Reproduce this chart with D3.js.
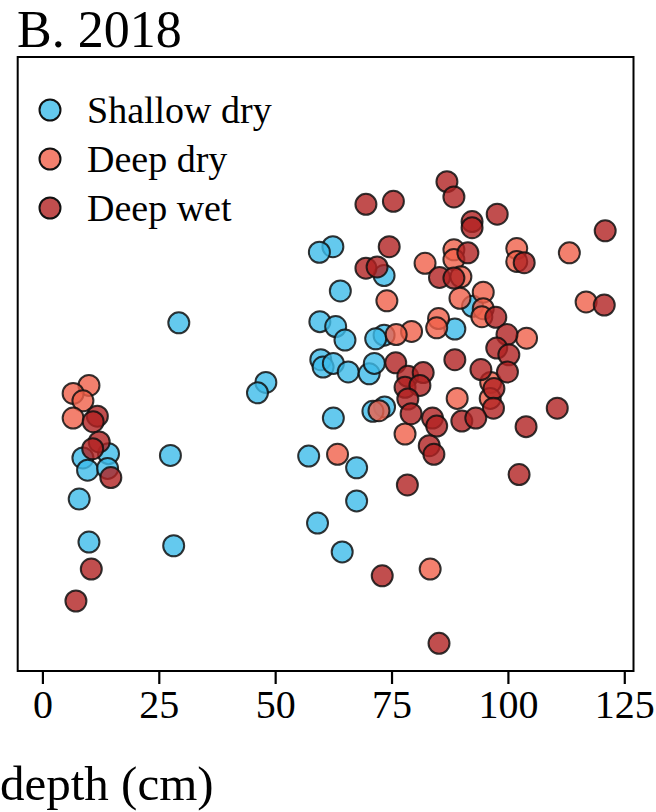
<!DOCTYPE html>
<html>
<head>
<meta charset="utf-8">
<script src="https://cdn.jsdelivr.net/npm/d3@7"></script>
<style>
  body { margin: 0; background: #fff; }
  text { font-family: "Liberation Serif", "Times New Roman", serif; fill: #000; }
</style>
</head>
<body>
<div id="chart"></div>
<script>
"use strict";

// series: [depth (cm), y value (unlabelled axis)]
const shallowDry = [
    [29.3, 56.7], [48.0, 47.0], [46.2, 45.3], [8.7, 34.7], [14.2, 35.4], [9.7, 32.7],
    [14.0, 33.0], [27.5, 35.1], [7.9, 28.0], [10.0, 21.0], [28.2, 20.4], [62.4, 69.1],
    [59.5, 68.2], [73.4, 64.4], [64.0, 61.9], [92.4, 59.4], [59.6, 56.9], [63.0, 56.1],
    [65.0, 53.9], [88.6, 55.7], [73.4, 54.7], [71.6, 54.1], [59.8, 50.7], [60.3, 49.5],
    [62.5, 50.1], [65.7, 48.7], [70.2, 48.4], [71.3, 50.1], [73.5, 43.0], [71.0, 42.3],
    [62.5, 41.2], [57.2, 35.0], [67.5, 33.1], [67.5, 27.7], [59.1, 24.1], [64.4, 19.4]
];
const deepDry = [
    [10.0, 46.5], [6.6, 45.2], [8.7, 44.0], [6.6, 41.2], [88.4, 68.6], [88.4, 67.0],
    [82.2, 66.4], [89.9, 64.2], [74.0, 60.3], [89.7, 60.7], [94.7, 61.7], [94.7, 59.0],
    [94.4, 57.7], [85.1, 57.4], [84.7, 55.9], [79.3, 55.3], [76.0, 54.8], [101.9, 68.8],
    [101.9, 66.7], [113.2, 68.1], [116.8, 60.1], [104.0, 54.2], [96.3, 47.0], [96.2, 44.4],
    [89.1, 44.4], [72.3, 42.4], [77.9, 38.6], [63.4, 35.3], [83.3, 16.6]
];
const deepWet = [
    [11.8, 41.5], [10.9, 40.6], [12.2, 37.3], [10.8, 36.2], [14.7, 31.5], [10.5, 16.6],
    [7.2, 11.4], [86.9, 79.7], [88.4, 77.2], [69.5, 76.0], [75.4, 76.5], [92.3, 73.2],
    [92.3, 72.2], [97.7, 74.4], [120.9, 71.7], [74.5, 69.1], [91.4, 68.1], [103.5, 66.5],
    [69.5, 65.6], [71.9, 65.8], [85.3, 64.1], [88.4, 64.0], [120.7, 59.6], [97.4, 57.6],
    [99.8, 54.8], [97.6, 52.6], [100.2, 51.5], [99.9, 48.7], [94.2, 49.1], [88.6, 50.7],
    [75.9, 50.2], [78.5, 48.0], [81.8, 48.6], [77.9, 46.2], [81.1, 46.5], [78.5, 44.3],
    [79.2, 41.9], [97.0, 46.0], [96.9, 42.8], [83.8, 41.2], [84.7, 39.9], [90.1, 40.7],
    [93.1, 41.2], [110.6, 42.8], [103.9, 39.8], [83.1, 36.7], [84.1, 35.3], [78.4, 30.3],
    [102.4, 32.0], [73.0, 15.5], [85.2, 4.5]
];

const groups = ["Shallow dry", "Deep dry", "Deep wet"];
const groupColors = ["#3dbbea", "#f0604a", "#b22222"];
const xTicks = [0, 25, 50, 75, 100, 125];

const msm = {
    width: 656,
    height: 812,
    left: 17.7,
    right: 633.5,
    top: 57,
    bottom: 671,
    r: 10.5
};

let svg = d3.select("#chart")
    .append("svg")
    .attr("width", msm.width)
    .attr("height", msm.height);

// scales
let xScale = d3.scaleLinear()
    .domain([-5.31, 126.98])
    .range([msm.left, msm.right]);

let yScale = d3.scaleLinear()
    .domain([0, 100])
    .range([msm.bottom, msm.top]);

// title
svg.append("text")
    .attr("x", 17)
    .attr("y", 47)
    .style("font-size", "52px")
    .text("B. 2018");

// x axis with ticks below the box
let xAxis = d3.axisBottom(xScale)
    .tickValues(xTicks)
    .tickSize(13)
    .tickPadding(6);

let gx = svg.append("g")
    .attr("transform", "translate(0," + msm.bottom + ")")
    .call(xAxis);
gx.select(".domain").remove();
gx.selectAll(".tick line").attr("stroke", "#000").attr("stroke-width", 2.2);
gx.selectAll(".tick text")
    .style("font-family", "Liberation Serif, serif")
    .style("font-size", "40px")
    .attr("fill", "#000");

// axis label (the reference crops its start at the left edge)
svg.append("text")
    .attr("x", 0)
    .attr("y", 800)
    .style("font-size", "49px")
    .text("depth (cm)");

// points
let allSeries = [shallowDry, deepDry, deepWet];
allSeries.forEach((series, i) => {
    svg.append("g")
        .selectAll("circle")
        .data(series)
        .enter()
        .append("circle")
        .attr("cx", d => xScale(d[0]))
        .attr("cy", d => yScale(d[1]))
        .attr("r", msm.r)
        .attr("fill", groupColors[i])
        .attr("fill-opacity", 0.8)
        .attr("stroke", "#111")
        .attr("stroke-opacity", 0.85)
        .attr("stroke-width", 2);
});

// plot box
svg.append("rect")
    .attr("x", msm.left)
    .attr("y", msm.top)
    .attr("width", msm.right - msm.left)
    .attr("height", msm.bottom - msm.top)
    .attr("fill", "none")
    .attr("stroke", "#000")
    .attr("stroke-width", 2);

// legend
let legend = svg.selectAll(".legend")
    .data(groups)
    .enter()
    .append("g")
    .attr("class", "legend")
    .attr("transform", (d, i) => "translate(50," + (110 + i * 49) + ")");

legend.append("circle")
    .attr("r", msm.r)
    .attr("fill", (d, i) => groupColors[i])
    .attr("fill-opacity", 0.8)
    .attr("stroke", "#111")
    .attr("stroke-width", 2);

legend.append("text")
    .attr("x", 37)
    .attr("dy", "0.33em")
    .style("font-size", "38px")
    .text(d => d);
</script>
</body>
</html>
